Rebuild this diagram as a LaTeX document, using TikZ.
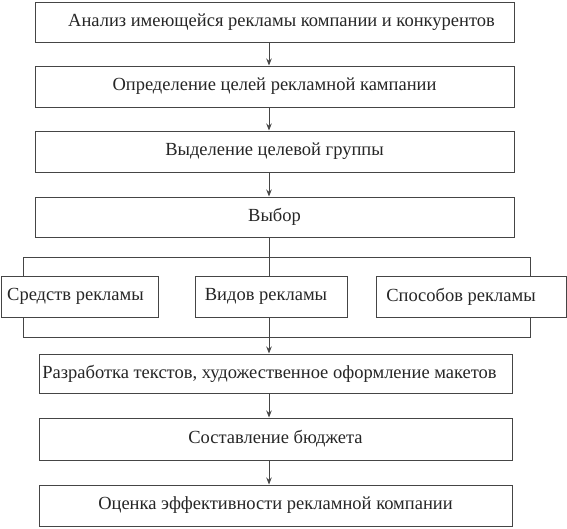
\documentclass[tikz,border=0pt]{standalone}
\usepackage{fontspec}
\setmainfont{Liberation Serif}
\usetikzlibrary{arrows.meta}
\definecolor{ln}{HTML}{454545}
\definecolor{tx}{HTML}{262626}
\begin{document}
\begin{tikzpicture}[x=1pt,y=-1pt,
  box/.style={draw=ln,line width=1pt,fill=white,rectangle,inner sep=0pt,
    text=tx,font=\fontsize{18.5}{21}\selectfont,minimum height=#1},
  box/.default=41pt,
  conn/.style={draw=ln,line width=0.9pt},
  arr/.style={conn,-{Stealth[length=7pt,width=5.5pt]}}]
\useasboundingbox (0,0) rectangle (567,528);
\coordinate (ax) at (269,0);
\coordinate (brtl) at (23,257);
\coordinate (brbr) at (530,337);
\draw[conn] (brtl) rectangle (brbr);
\node[box=40pt,minimum width=479pt] (b1) at (274.5,22) {\hspace*{14pt}Анализ имеющейся рекламы компании и конкурентов};
\node[box,minimum width=479pt] (b2) at (274.5,86.5) {Определение целей рекламной кампании};
\node[box,minimum width=479pt] (b3) at (274.5,151.5) {Выделение целевой группы};
\node[box=40pt,minimum width=479pt] (b4) at (274.5,217) {Выбор};
\node[box,minimum width=157pt] (s1) at (79.5,296.5) {Средств рекламы\hspace*{8pt}};
\node[box,minimum width=152pt] (s2) at (271,296.5) {Видов рекламы\hspace*{10pt}};
\node[box,minimum width=190pt] (s3) at (471,296.5) {Способов рекламы\hspace*{20pt}};
\node[box=39pt,minimum width=473pt] (b7) at (275.5,373.5) {Разработка текстов, художественное оформление макетов\hspace*{12pt}};
\node[box=42pt,minimum width=473pt] (b8) at (275.5,439) {Составление бюджета};
\node[box,minimum width=473pt] (b9) at (275.5,505.5) {Оценка эффективности рекламной компании};
\draw[arr] (b1.south -| ax) -- (b2.north -| ax);
\draw[arr] (b2.south -| ax) -- (b3.north -| ax);
\draw[arr] (b3.south -| ax) -- (b4.north -| ax);
\draw[conn] (b4.south -| ax) -- (s2.north -| ax);
\draw[arr] (s2.south -| ax) -- (b7.north -| ax);
\draw[arr] (b7.south -| ax) -- (b8.north -| ax);
\draw[arr] (b8.south -| ax) -- (b9.north -| ax);
\end{tikzpicture}
\end{document}
